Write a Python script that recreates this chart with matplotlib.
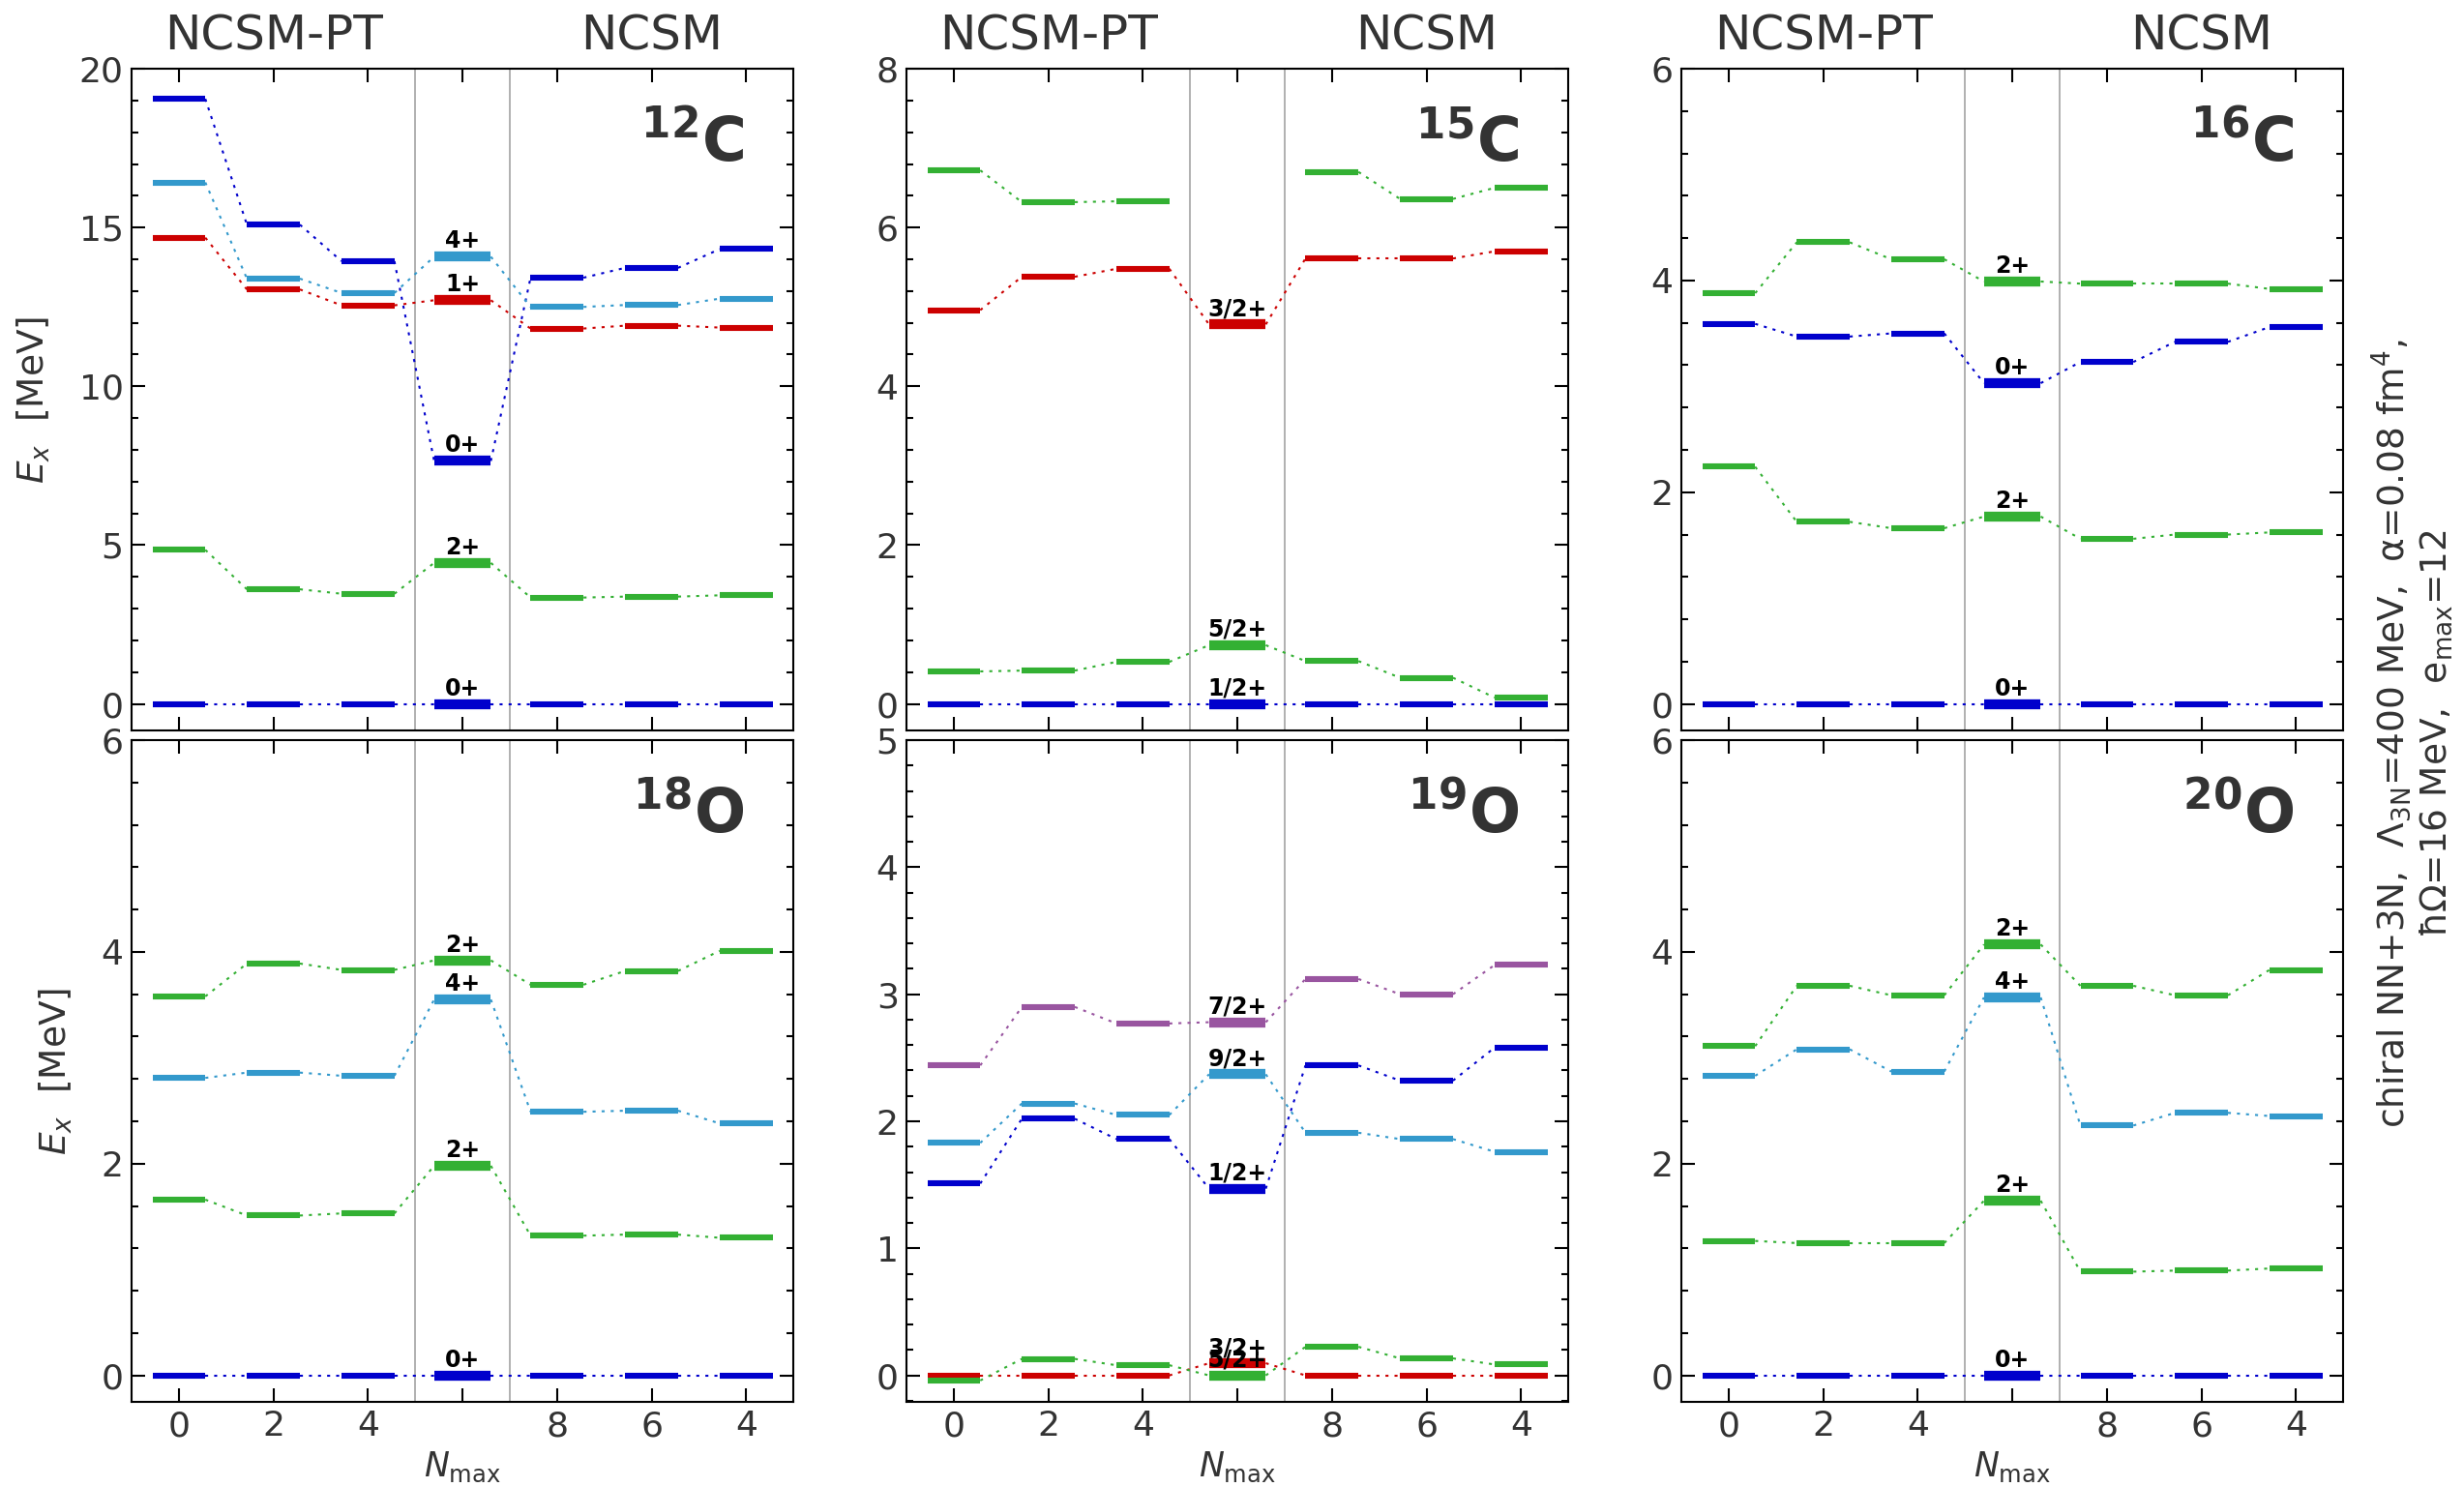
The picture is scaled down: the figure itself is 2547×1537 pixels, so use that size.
import matplotlib
matplotlib.use('Agg')
import matplotlib.pyplot as plt
from matplotlib.ticker import MultipleLocator, AutoMinorLocator

plt.rcParams['font.family'] = ['DejaVu Sans']
plt.rcParams['mathtext.fontset'] = 'dejavusans'

BLUE = '#0000cc'
LBLUE = '#3399cc'
RED = '#cc0000'
GREEN = '#33b033'
PURPLE = '#9955a0'
GREY_TXT = '#333333'

# x positions: NCSM-PT Nmax=0,2,4 | experiment | NCSM Nmax=8,6,4
nmax_labels = ['0', '2', '4', '', '8', '6', '4']

# 12C
c12_jpi = ['0+', '2+', '0+', '4+', '1+']
c12_colors = [BLUE, GREEN, BLUE, LBLUE, RED]
c12_pt = [[0, 0, 0], [4.85, 3.61, 3.47], [19.05, 15.09, 13.94], [16.42, 13.39, 12.94], [14.68, 13.05, 12.55]]
c12_exp = [0, 4.44, 7.65, 14.08, 12.71]
c12_ncsm = [[0, 0, 0], [3.35, 3.38, 3.42], [13.42, 13.73, 14.32], [12.50, 12.56, 12.76], [11.82, 11.91, 11.85]]

# 15C
c15_jpi = ['1/2+', '5/2+', '3/2+', None]
c15_colors = [BLUE, GREEN, RED, GREEN]
c15_pt = [[0, 0, 0], [0.41, 0.42, 0.53], [4.96, 5.38, 5.48], [6.72, 6.32, 6.33]]
c15_exp = [0, 0.74, 4.78, None]
c15_ncsm = [[0, 0, 0], [0.54, 0.33, 0.08], [5.61, 5.61, 5.70], [6.70, 6.36, 6.50]]

# 16C
c16_jpi = ['0+', '2+', '0+', '2+']
c16_colors = [BLUE, GREEN, BLUE, GREEN]
c16_pt = [[0, 0, 0], [2.24, 1.72, 1.66], [3.59, 3.47, 3.50], [3.88, 4.36, 4.20]]
c16_exp = [0, 1.77, 3.03, 3.99]
c16_ncsm = [[0, 0, 0], [1.56, 1.60, 1.62], [3.23, 3.42, 3.56], [3.97, 3.97, 3.92]]

# 18O
o18_jpi = ['0+', '2+', '4+', '2+']
o18_colors = [BLUE, GREEN, LBLUE, GREEN]
o18_pt = [[0, 0, 0], [1.66, 1.51, 1.53], [2.81, 2.86, 2.83], [3.58, 3.89, 3.83]]
o18_exp = [0, 1.98, 3.55, 3.92]
o18_ncsm = [[0, 0, 0], [1.32, 1.33, 1.30], [2.49, 2.50, 2.38], [3.69, 3.82, 4.01]]

# 19O
o19_jpi = ['3/2+', '5/2+', '1/2+', '9/2+', '7/2+']
o19_colors = [RED, GREEN, BLUE, LBLUE, PURPLE]
o19_pt = [[0, 0, 0], [-0.04, 0.13, 0.08], [1.51, 2.02, 1.86], [1.83, 2.14, 2.05], [2.44, 2.90, 2.77]]
o19_exp = [0.096, 0, 1.47, 2.37, 2.78]
o19_ncsm = [[0, 0, 0], [0.225, 0.134, 0.086], [2.44, 2.32, 2.58], [1.91, 1.86, 1.76], [3.12, 3.00, 3.23]]

# 20O
o20_jpi = ['0+', '2+', '4+', '2+']
o20_colors = [BLUE, GREEN, LBLUE, GREEN]
o20_pt = [[0, 0, 0], [1.27, 1.25, 1.25], [2.83, 3.08, 2.87], [3.11, 3.68, 3.59]]
o20_exp = [0, 1.65, 3.57, 4.07]
o20_ncsm = [[0, 0, 0], [0.98, 0.99, 1.01], [2.36, 2.48, 2.45], [3.68, 3.59, 3.83]]

panels = [
    (r'$^{\mathbf{12}}\mathbf{C}$', 20, 5, c12_jpi, c12_colors, c12_pt, c12_exp, c12_ncsm),
    (r'$^{\mathbf{15}}\mathbf{C}$', 8, 2, c15_jpi, c15_colors, c15_pt, c15_exp, c15_ncsm),
    (r'$^{\mathbf{16}}\mathbf{C}$', 6, 2, c16_jpi, c16_colors, c16_pt, c16_exp, c16_ncsm),
    (r'$^{\mathbf{18}}\mathbf{O}$', 6, 2, o18_jpi, o18_colors, o18_pt, o18_exp, o18_ncsm),
    (r'$^{\mathbf{19}}\mathbf{O}$', 5, 1, o19_jpi, o19_colors, o19_pt, o19_exp, o19_ncsm),
    (r'$^{\mathbf{20}}\mathbf{O}$', 6, 2, o20_jpi, o20_colors, o20_pt, o20_exp, o20_ncsm),
]


def draw_levels(ax, jpi, colors, pt, exp, ncsm):
    for k in range(len(jpi)):
        c = colors[k]
        vals = list(pt[k]) + [exp[k]] + list(ncsm[k])
        hws = [0.30 if i == 3 else 0.28 for i in range(7)]
        for i, v in enumerate(vals):
            if v is None:
                continue
            ax.plot([i - hws[i], i + hws[i]], [v, v], color=c,
                    lw=7.4 if i == 3 else 4.4, solid_capstyle='butt', zorder=3)
        for i in range(6):
            a, b = vals[i], vals[i + 1]
            if a is None or b is None:
                continue
            ax.plot([i + hws[i], i + 1 - hws[i + 1]], [a, b], color=c, lw=1.5,
                    ls=(0, (1.5, 3)), zorder=2)
        if exp[k] is not None and jpi[k]:
            ax.annotate(jpi[k], (3, exp[k]), xytext=(0, 6.5), textcoords='offset points',
                        ha='center', va='baseline', fontsize=17, fontweight='bold',
                        color='black', zorder=6)


fig = plt.figure(figsize=(25.47, 15.37), dpi=100)
lefts = [0.0534, 0.3679, 0.6824]
bottoms = [0.5088, 0.05725]
w, h = 0.2686, 0.4450

for n, (name, ymax, major, jpi, colors, pt, exp, ncsm) in enumerate(panels):
    row, col = divmod(n, 3)
    ax = fig.add_axes([lefts[col], bottoms[row], w, h])
    draw_levels(ax, jpi, colors, pt, exp, ncsm)
    ax.axvline(2.5, color='#aaaaaa', lw=1.3, zorder=1)
    ax.axvline(3.5, color='#aaaaaa', lw=1.3, zorder=1)
    ax.set_xlim(-0.5, 6.5)
    ax.set_ylim(-ymax / 24, ymax)
    ax.set_xticks(range(7))
    ax.yaxis.set_major_locator(MultipleLocator(major))
    ax.yaxis.set_minor_locator(AutoMinorLocator(5))
    ax.tick_params(which='both', direction='in', top=True, right=True,
                   labelsize=26, labelcolor=GREY_TXT, pad=6)
    ax.tick_params(which='major', length=10, width=1.5)
    ax.tick_params(which='minor', length=5, width=1.5)
    ax.tick_params(axis='x', which='minor', top=False, bottom=False)
    for s in ax.spines.values():
        s.set_linewidth(1.5)
    if row == 1:
        ax.set_xticklabels(nmax_labels)
        ax.set_xlabel(r'$N_{\mathrm{max}}$', fontsize=25, color=GREY_TXT, labelpad=5)
    else:
        ax.set_xticklabels([])
        ax.annotate('NCSM-PT', xy=(1, 1), xycoords=('data', 'axes fraction'),
                    xytext=(0, 13.7), textcoords='offset points', ha='center',
                    va='baseline', fontsize=36, color=GREY_TXT)
        ax.annotate('NCSM', xy=(5, 1), xycoords=('data', 'axes fraction'),
                    xytext=(0, 13.7), textcoords='offset points', ha='center',
                    va='baseline', fontsize=36, color=GREY_TXT)
    if col == 0:
        ax.set_ylabel(r'$E_x$  [MeV]', fontsize=27, color=GREY_TXT, labelpad=20)
    ax.text(0.925, 0.86, name, transform=ax.transAxes, ha='right', va='baseline',
            fontsize=45, fontweight='bold', color=GREY_TXT, zorder=7)

fig.text(0.979, 0.507,
         'chiral NN+3N,  $\\Lambda_{\\rm 3N}$=400 MeV,  α=0.08 fm$^4$,\n'
         'ħΩ=16 MeV,  e$_{\\rm max}$=12',
         rotation=90, ha='center', va='center', fontsize=27, color=GREY_TXT,
         linespacing=1.15, multialignment='center')

fig.savefig('out.png', dpi=100)
